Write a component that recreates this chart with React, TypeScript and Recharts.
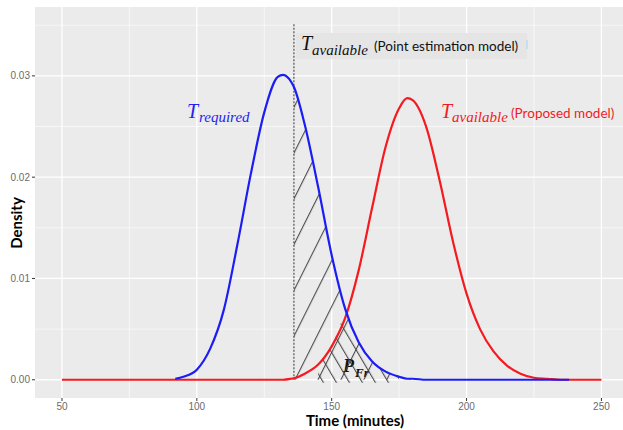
import React from 'react';
import {
  ComposedChart,
  Line,
  Area,
  XAxis,
  YAxis,
  CartesianGrid,
  ReferenceLine,
  Customized,
} from 'recharts';

// time (minutes) sample points
const times = [
  50, 55, 60, 65, 70, 75, 80, 85, 90, 92, 95, 100, 105, 110, 115, 120, 125, 130, 132, 135, 136,
  140, 145, 150, 155, 160, 165, 170, 175, 178, 180, 185, 190, 195, 200, 205, 210, 215, 220, 225,
  230, 235, 238, 240, 245, 250,
];

// T required density (blue)
const requiredDensity = [
  null, null, null, null, null, null, null, null, null, 0.0001, 0.0003, 0.001, 0.0031, 0.0069,
  0.0133, 0.0203, 0.0264, 0.0299, 0.0301, 0.0294, 0.0289, 0.0252, 0.019, 0.0123, 0.007, 0.0037,
  0.0018, 0.0008, 0.0003, 0.0001, 0.0001, 0, 0, 0, 0, 0, 0, 0, 0, 0, 0, 0, 0, null, null, null,
];

// T available, proposed model (red)
const availableDensity = [
  0, 0, 0, 0, 0, 0, 0, 0, 0, 0, 0, 0, 0, 0, 0, 0, 0, 0, 0, 0.0001, 0.00015, 0.0006, 0.0015,
  0.0033, 0.0061, 0.0108, 0.017, 0.023, 0.0268, 0.0278, 0.0276, 0.025, 0.0197, 0.0136, 0.0085,
  0.005, 0.0028, 0.0014, 0.0006, 0.0002, 0.0001, 0, 0, 0, 0, 0,
];

const pointEstimate = 136;
const crossFrom = 145;
const crossTo = 175;

const xTicks = [50, 100, 150, 200, 250];
const xMinor = [75, 125, 175, 225];
const yTicks = [0, 0.01, 0.02, 0.03];
const yMinor = [0.005, 0.015, 0.025, 0.035];

const X_DOMAIN = [40, 258];
const Y_DOMAIN = [-0.0018, 0.0368];

const W = 623;
const H = 430;
const LEFT = 35;
const TOP = 7;
const BOTTOM = 398;

const px = (x: number) => LEFT + ((x - X_DOMAIN[0]) * (W - LEFT)) / (X_DOMAIN[1] - X_DOMAIN[0]);
const py = (y: number) => TOP + ((Y_DOMAIN[1] - y) * (BOTTOM - TOP)) / (Y_DOMAIN[1] - Y_DOMAIN[0]);

const data = times.map((t, i) => {
  const b = requiredDensity[i];
  const r = availableDensity[i];
  return {
    t,
    required: b,
    available: r,
    hatch: b != null && t >= pointEstimate ? b : null,
    cross: b != null && t >= crossFrom && t <= crossTo ? Math.min(b, r) : null,
  };
});

const mathFont = '"Liberation Serif", "Times New Roman", serif';
const sansFont = 'Lato, "Open Sans", sans-serif';

function Annotations() {
  return (
    <g>
      {/* point estimation label box */}
      <rect x={296} y={33} width={231} height={26} fill="#e5e5e5" />
      <line x1={527} y1={40} x2={527} y2={49} stroke="#a8d4ee" strokeWidth={1} />
      <text x={301} y={50} fontFamily={mathFont} fontStyle="italic" fontSize={20} fill="#111">T</text>
      <text x={312} y={55} fontFamily={mathFont} fontStyle="italic" fontSize={15} fill="#111">available</text>
      <text x={374} y={51} fontFamily={sansFont} fontSize={13.5} fill="#111">(Point estimation model)</text>

      <text x={187} y={118} fontFamily={mathFont} fontStyle="italic" fontSize={20} fill="#2323f0">T</text>
      <text x={199} y={122} fontFamily={mathFont} fontStyle="italic" fontSize={15} fill="#2323f0">required</text>

      <text x={441} y={118} fontFamily={mathFont} fontStyle="italic" fontSize={20} fill="#f01c24">T</text>
      <text x={452} y={122} fontFamily={mathFont} fontStyle="italic" fontSize={15} fill="#f01c24">available</text>
      <text x={511} y={118} fontFamily={sansFont} fontSize={13.5} fill="#f01c24">(Proposed model)</text>

      <text x={343} y={372} fontFamily={mathFont} fontStyle="italic" fontWeight="bold" fontSize={18} fill="#111">P</text>
      <text x={355} y={377} fontFamily={mathFont} fontStyle="italic" fontWeight="bold" fontSize={13} fill="#111">Fr</text>

      <text x={355} y={426} textAnchor="middle" fontFamily={sansFont} fontWeight="bold" fontSize={15} fill="#000">
        Time (minutes)
      </text>
      <text
        x={22}
        y={223}
        textAnchor="middle"
        transform="rotate(-90 22 223)"
        fontFamily={sansFont}
        fontWeight="bold"
        fontSize={15}
        fill="#000"
      >
        Density
      </text>
    </g>
  );
}

export default function App() {
  const upX = px(pointEstimate);
  const upY = py(0) + 1;
  return (
    <div style={{ position: 'absolute', left: 0, top: 0, width: W, height: H, background: '#fff' }}>
      <ComposedChart
        width={W}
        height={H}
        data={data}
        margin={{ top: TOP, right: 0, bottom: 0, left: 0 }}
      >
        <defs>
          <pattern
            id="hatchUp"
            patternUnits="userSpaceOnUse"
            width={20.5}
            height={20}
            patternTransform={`translate(${upX} ${upY}) rotate(26.6)`}
          >
            <line x1={0.6} y1={0} x2={0.6} y2={20} stroke="#3a3a3a" strokeWidth={1} />
          </pattern>
          <pattern
            id="hatchDown"
            patternUnits="userSpaceOnUse"
            width={11.2}
            height={20}
            patternTransform="translate(336 383) rotate(-30.5)"
          >
            <line x1={0.6} y1={0} x2={0.6} y2={20} stroke="#3a3a3a" strokeWidth={1} />
          </pattern>
        </defs>
        <CartesianGrid
          fill="#ebebeb"
          stroke="#ffffff"
          strokeWidth={0.6}
          horizontalValues={yMinor}
          verticalValues={xMinor}
        />
        <CartesianGrid
          stroke="#ffffff"
          strokeWidth={1.3}
          horizontalValues={yTicks}
          verticalValues={xTicks}
        />
        <XAxis
          dataKey="t"
          type="number"
          domain={X_DOMAIN}
          allowDataOverflow
          ticks={xTicks}
          height={H - BOTTOM}
          axisLine={false}
          tickSize={3}
          tickMargin={2}
          tickLine={{ stroke: '#333' }}
          tick={{ fill: '#6b6b6b', fontSize: 10, fontFamily: '"Liberation Sans", Arial, sans-serif' }}
        />
        <YAxis
          type="number"
          domain={Y_DOMAIN}
          allowDataOverflow
          ticks={yTicks}
          width={LEFT}
          axisLine={false}
          tickSize={3}
          tickMargin={2}
          tickLine={{ stroke: '#333' }}
          tickFormatter={(v: number) => v.toFixed(2)}
          tick={{ fill: '#6b6b6b', fontSize: 10, fontFamily: '"Liberation Sans", Arial, sans-serif' }}
        />
        <Area
          dataKey="hatch"
          type="monotone"
          stroke="none"
          fill="url(#hatchUp)"
          fillOpacity={1}
          isAnimationActive={false}
        />
        <Area
          dataKey="cross"
          type="monotone"
          stroke="none"
          fill="url(#hatchDown)"
          fillOpacity={1}
          baseValue={-0.0003}
          isAnimationActive={false}
        />
        <ReferenceLine
          segment={[
            { x: pointEstimate, y: 0 },
            { x: pointEstimate, y: 0.0351 },
          ]}
          stroke="#333"
          strokeWidth={1}
          strokeDasharray="2 1.5"
        />
        <Line
          dataKey="available"
          type="monotone"
          stroke="#f41a1f"
          strokeWidth={2.2}
          dot={false}
          isAnimationActive={false}
        />
        <Line
          dataKey="required"
          type="monotone"
          stroke="#1c1cf5"
          strokeWidth={2.2}
          dot={false}
          isAnimationActive={false}
        />
        <Customized component={Annotations} />
      </ComposedChart>
    </div>
  );
}
